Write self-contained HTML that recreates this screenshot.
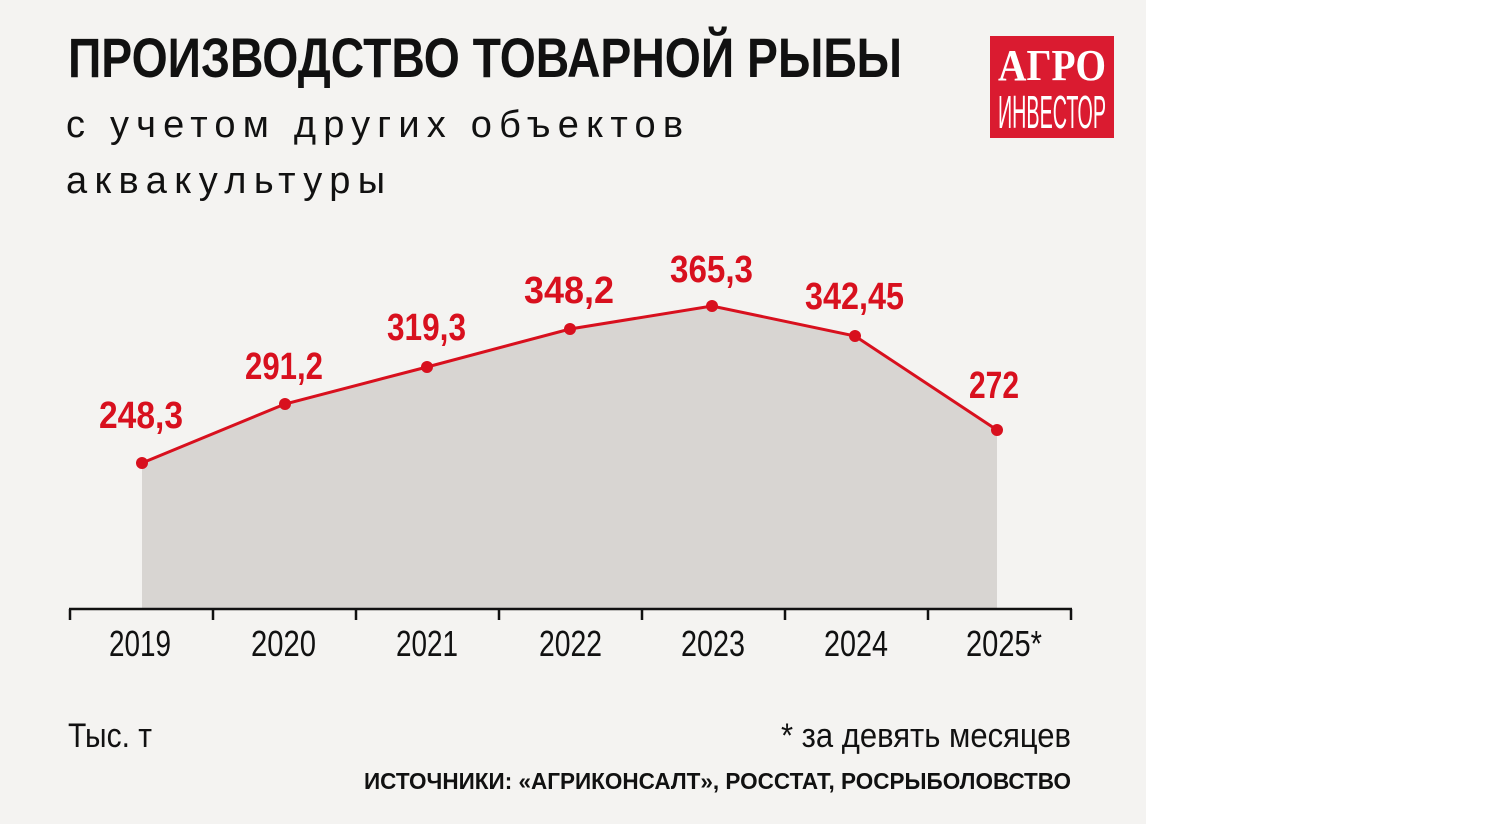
<!DOCTYPE html>
<html><head><meta charset="utf-8"><style>
html,body{margin:0;padding:0;width:1502px;height:824px;background:#fff;overflow:hidden}
.bg{position:absolute;left:0;top:0;width:1146px;height:824px;background:#f4f3f1}
.t{position:absolute;white-space:nowrap;color:#111}
</style></head><body>
<div class="bg"></div>
<div class="t" style="left:66px;top:104px;font-family:'Liberation Sans',sans-serif;font-size:38px;letter-spacing:7.2px">с учетом других объектов</div>
<div class="t" style="left:66px;top:160px;font-family:'Liberation Sans',sans-serif;font-size:38px;letter-spacing:7.4px">аквакультуры</div>
<div style="position:absolute;left:990px;top:36px;width:124px;height:102px;background:#da1b30"></div>
<svg width="1502" height="824" style="position:absolute;left:0;top:0">
<text x="68" y="77" font-family="Liberation Sans, sans-serif" font-weight="bold" font-size="56" fill="#111" textLength="834" lengthAdjust="spacingAndGlyphs">ПРОИЗВОДСТВО ТОВАРНОЙ РЫБЫ</text>
<text x="998" y="80" font-family="Liberation Serif, serif" font-weight="bold" font-size="44" fill="#fff" textLength="108" lengthAdjust="spacingAndGlyphs">АГРО</text>
<text x="998" y="128" font-family="Liberation Sans, sans-serif" font-size="46" fill="#fff" textLength="108" lengthAdjust="spacingAndGlyphs">ИНВЕСТОР</text>
<polygon points="142,463 285,404 427,367 570,329 712,306 855,336 997,430 997,608 142,608" fill="#d8d5d2"/>
<polyline points="142,463 285,404 427,367 570,329 712,306 855,336 997,430" fill="none" stroke="#d8101e" stroke-width="3"/>
<g fill="#d8101e">
<circle cx="142" cy="463" r="6"/><circle cx="285" cy="404" r="6"/><circle cx="427" cy="367" r="6"/><circle cx="570" cy="329" r="6"/><circle cx="712" cy="306" r="6"/><circle cx="855" cy="336" r="6"/><circle cx="997" cy="430" r="6"/>
</g>
<g stroke="#111" stroke-width="2.5" fill="none">
<line x1="69" y1="609" x2="1072" y2="609"/>
<line x1="70" y1="609" x2="70" y2="620"/><line x1="213" y1="609" x2="213" y2="620"/><line x1="356" y1="609" x2="356" y2="620"/><line x1="499" y1="609" x2="499" y2="620"/><line x1="642" y1="609" x2="642" y2="620"/><line x1="785" y1="609" x2="785" y2="620"/><line x1="928" y1="609" x2="928" y2="620"/><line x1="1071" y1="609" x2="1071" y2="620"/>
</g>
<g font-family="Liberation Sans, sans-serif" font-weight="bold" font-size="38" fill="#d8101e" lengthAdjust="spacingAndGlyphs">
<text x="99" y="428" textLength="84" lengthAdjust="spacingAndGlyphs">248,3</text>
<text x="245" y="379" textLength="78" lengthAdjust="spacingAndGlyphs">291,2</text>
<text x="387" y="340" textLength="79" lengthAdjust="spacingAndGlyphs">319,3</text>
<text x="524" y="303" textLength="90" lengthAdjust="spacingAndGlyphs">348,2</text>
<text x="670" y="282" textLength="83" lengthAdjust="spacingAndGlyphs">365,3</text>
<text x="805" y="309" textLength="99" lengthAdjust="spacingAndGlyphs">342,45</text>
<text x="969" y="398" textLength="50" lengthAdjust="spacingAndGlyphs">272</text>
</g>
<g font-family="Liberation Sans, sans-serif" font-size="36" fill="#111">
<text x="109" y="656" textLength="62" lengthAdjust="spacingAndGlyphs">2019</text>
<text x="251" y="656" textLength="65" lengthAdjust="spacingAndGlyphs">2020</text>
<text x="396" y="656" textLength="62" lengthAdjust="spacingAndGlyphs">2021</text>
<text x="539" y="656" textLength="63" lengthAdjust="spacingAndGlyphs">2022</text>
<text x="681" y="656" textLength="64" lengthAdjust="spacingAndGlyphs">2023</text>
<text x="824" y="656" textLength="64" lengthAdjust="spacingAndGlyphs">2024</text>
<text x="966" y="656" textLength="76" lengthAdjust="spacingAndGlyphs">2025*</text>
</g>
<g font-family="Liberation Sans, sans-serif" fill="#111">
<text x="68" y="747" font-size="34" textLength="84" lengthAdjust="spacingAndGlyphs">Тыс. т</text>
<text x="781" y="747" font-size="34" textLength="290" lengthAdjust="spacingAndGlyphs">* за девять месяцев</text>
<text x="364" y="789" font-size="23" font-weight="bold" textLength="707" lengthAdjust="spacingAndGlyphs">ИСТОЧНИКИ: «АГРИКОНСАЛТ», РОССТАТ, РОСРЫБОЛОВСТВО</text>
</g>
</svg>
</body></html>
